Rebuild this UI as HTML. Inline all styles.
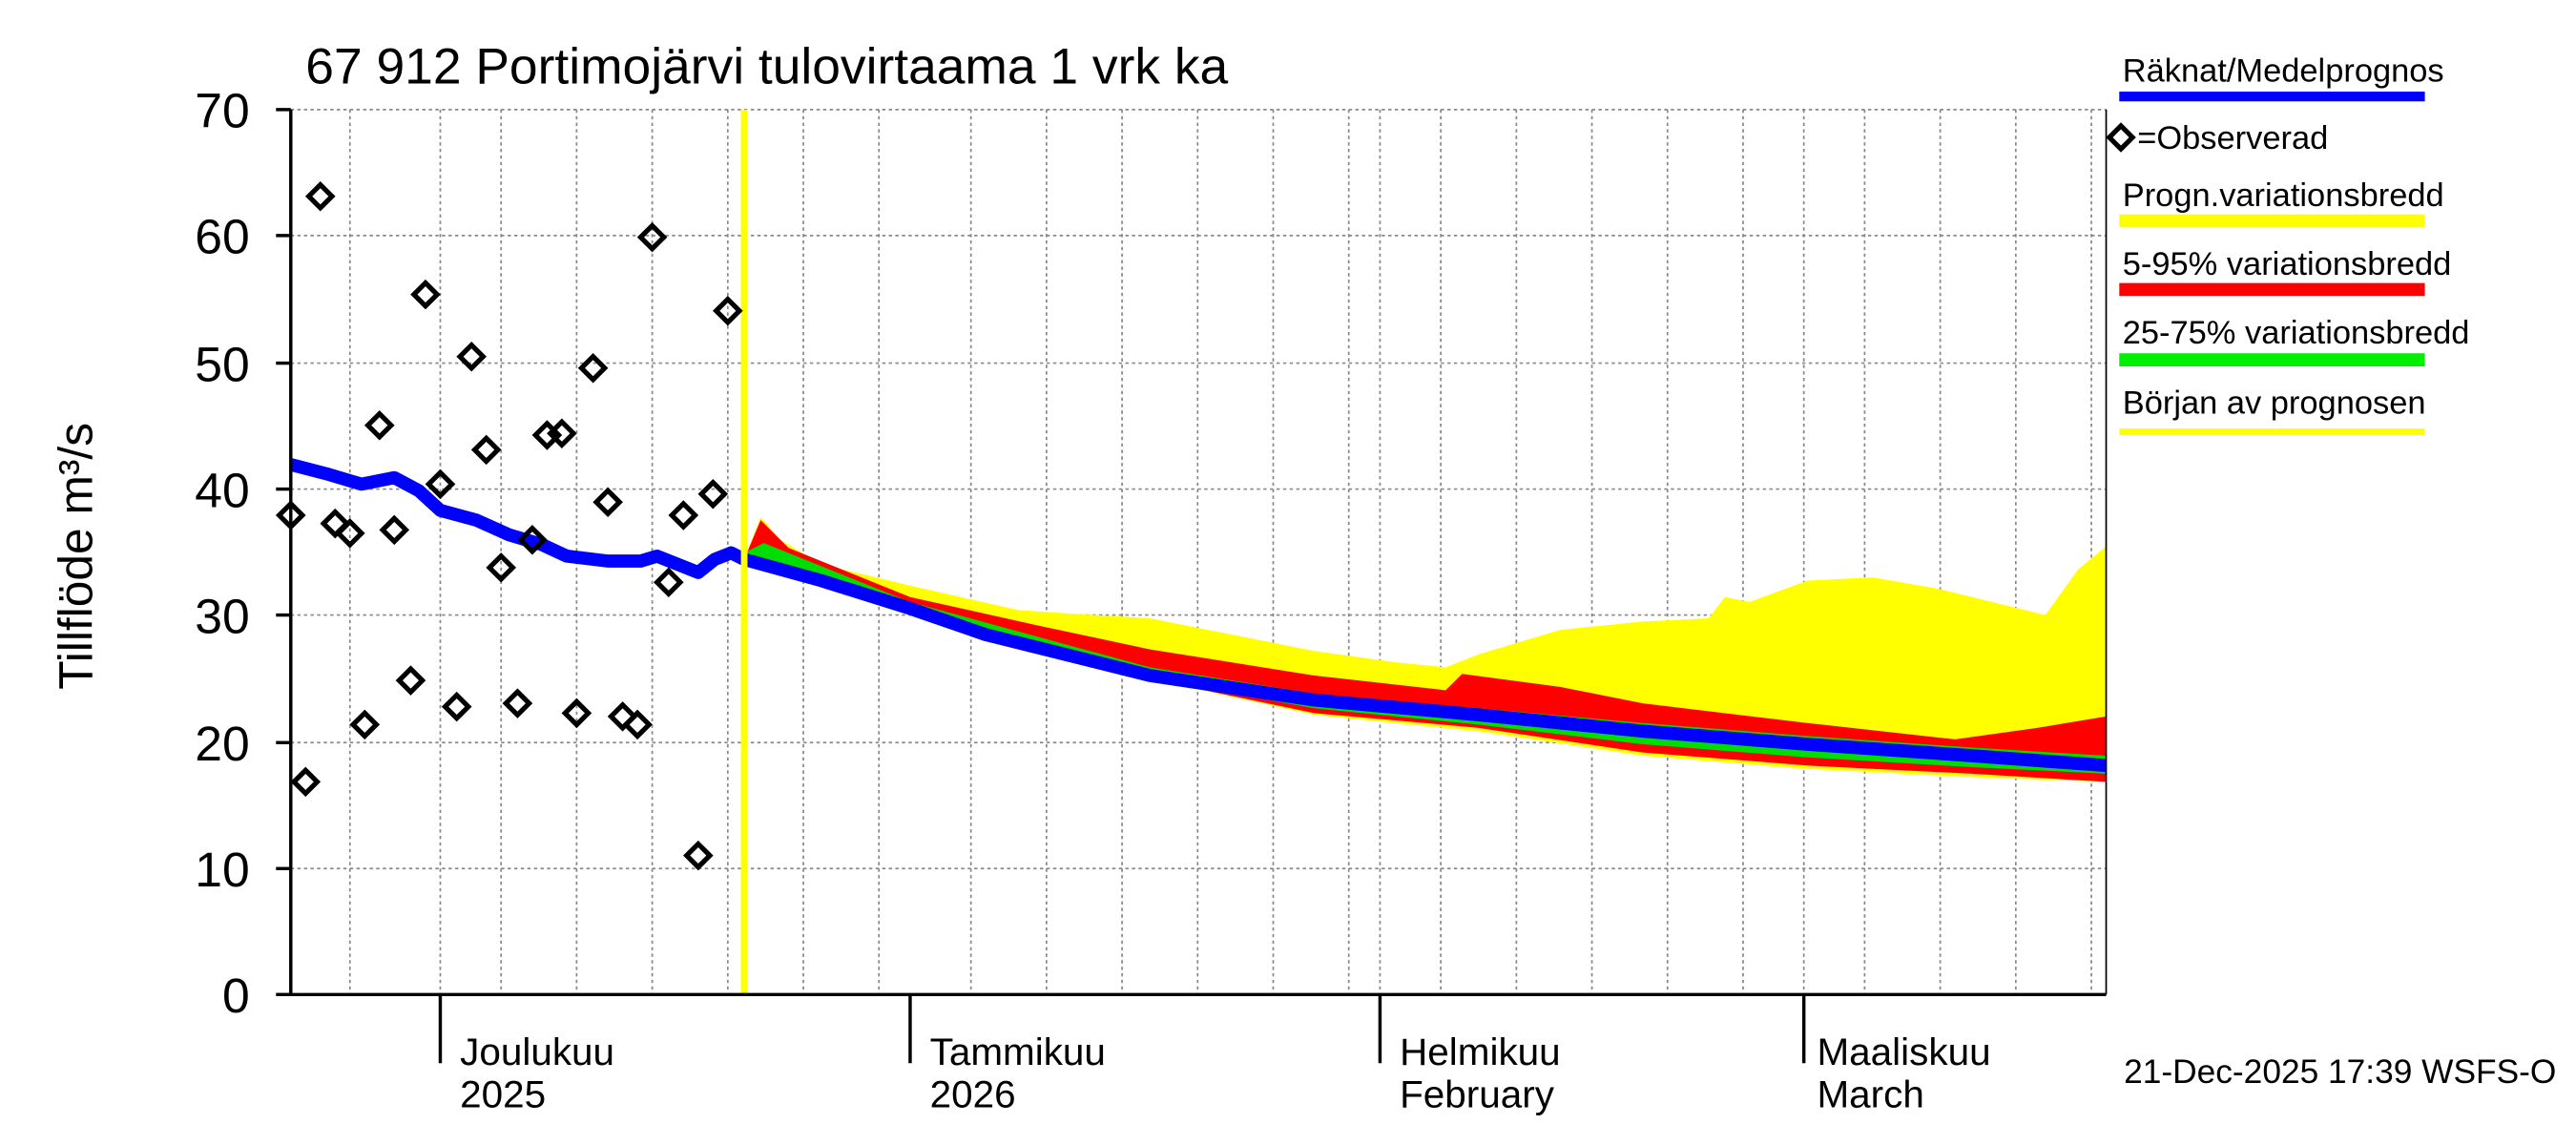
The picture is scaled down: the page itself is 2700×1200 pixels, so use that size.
<!DOCTYPE html>
<html><head><meta charset="utf-8"><style>
html,body{margin:0;padding:0;background:#fff;}
svg{display:block;font-family:"Liberation Sans",sans-serif;}
</style></head><body>
<svg width="2700" height="1200" viewBox="0 0 1568 700" preserveAspectRatio="none" xmlns="http://www.w3.org/2000/svg">
<rect width="1568" height="700" fill="#fff"/>
<g stroke="#888" stroke-dasharray="2,2" stroke-width="1">
<line x1="177" x2="1282" y1="531" y2="531"/><line x1="177" x2="1282" y1="454" y2="454"/>
<line x1="177" x2="1282" y1="376" y2="376"/><line x1="177" x2="1282" y1="299" y2="299"/>
<line x1="177" x2="1282" y1="222" y2="222"/><line x1="177" x2="1282" y1="144" y2="144"/>
<line x1="177" x2="1282" y1="67" y2="67"/>
<line x1="213" x2="213" y1="67" y2="608"/><line x1="268" x2="268" y1="67" y2="608"/>
<line x1="305" x2="305" y1="67" y2="608"/><line x1="351" x2="351" y1="67" y2="608"/>
<line x1="397" x2="397" y1="67" y2="608"/><line x1="443" x2="443" y1="67" y2="608"/>
<line x1="489" x2="489" y1="67" y2="608"/><line x1="535" x2="535" y1="67" y2="608"/>
<line x1="591" x2="591" y1="67" y2="608"/><line x1="637" x2="637" y1="67" y2="608"/>
<line x1="683" x2="683" y1="67" y2="608"/><line x1="729" x2="729" y1="67" y2="608"/>
<line x1="775" x2="775" y1="67" y2="608"/><line x1="821" x2="821" y1="67" y2="608"/>
<line x1="840" x2="840" y1="67" y2="608"/><line x1="877" x2="877" y1="67" y2="608"/>
<line x1="923" x2="923" y1="67" y2="608"/><line x1="969" x2="969" y1="67" y2="608"/>
<line x1="1015" x2="1015" y1="67" y2="608"/><line x1="1061" x2="1061" y1="67" y2="608"/>
<line x1="1098" x2="1098" y1="67" y2="608"/><line x1="1135" x2="1135" y1="67" y2="608"/>
<line x1="1181" x2="1181" y1="67" y2="608"/><line x1="1227" x2="1227" y1="67" y2="608"/>
<line x1="1273" x2="1273" y1="67" y2="608"/>
</g>
<polygon fill="#ffff00" points="453,342 463,316 475,330 500,345 554,358 620,373 650,375 700,378 750,388 800,398 850,405 880,408 900,400 950,385 1000,380 1040,378 1050,365 1065,368 1100,355 1140,353 1180,360 1245,376 1265,348 1282,334 1282,478 1200,475 1100,470 1000,462 900,447 800,437 700,415 554,375"/>
<polygon fill="#ff0000" points="453,342 463,318 480,335 554,365 630,382 700,397 800,413 880,422 890,412 950,420 1000,430 1100,442 1190,452 1240,445 1282,438 1282,478 1200,473 1100,468 1000,460 900,445 800,436 700,415 554,375"/>
<polygon fill="#00dd00" points="453,338 465,332 554,368 700,408 800,424 900,433 1000,442 1100,450 1200,457 1282,462 1282,473 1200,469 1100,463 1000,455 900,443 800,433 700,415 554,375 453,344"/>
<polyline fill="none" stroke="#0000ff" stroke-width="8" stroke-linejoin="round" points="177,284 200,290 220,296 240,292 255,300 268,312 290,318 310,327 330,333 345,340 370,343 390,343 400,340 415,346 425,350 435,342 445,338 453,342 500,355 554,372 600,388 700,413 800,428 900,437 1000,447 1100,455 1200,462 1282,468"/>
<line x1="453" x2="453" y1="67" y2="608" stroke="#ffff00" stroke-width="4"/>
<g fill="none" stroke="#000" stroke-width="3">
<rect x="172" y="310" width="10" height="10" transform="rotate(45 177 315)"/>
<rect x="181" y="473" width="10" height="10" transform="rotate(45 186 478)"/>
<rect x="190" y="115" width="10" height="10" transform="rotate(45 195 120)"/>
<rect x="199" y="315" width="10" height="10" transform="rotate(45 204 320)"/>
<rect x="208" y="321" width="10" height="10" transform="rotate(45 213 326)"/>
<rect x="217" y="438" width="10" height="10" transform="rotate(45 222 443)"/>
<rect x="226" y="255" width="10" height="10" transform="rotate(45 231 260)"/>
<rect x="235" y="319" width="10" height="10" transform="rotate(45 240 324)"/>
<rect x="245" y="411" width="10" height="10" transform="rotate(45 250 416)"/>
<rect x="254" y="175" width="10" height="10" transform="rotate(45 259 180)"/>
<rect x="263" y="291" width="10" height="10" transform="rotate(45 268 296)"/>
<rect x="273" y="427" width="10" height="10" transform="rotate(45 278 432)"/>
<rect x="282" y="213" width="10" height="10" transform="rotate(45 287 218)"/>
<rect x="291" y="270" width="10" height="10" transform="rotate(45 296 275)"/>
<rect x="300" y="342" width="10" height="10" transform="rotate(45 305 347)"/>
<rect x="310" y="425" width="10" height="10" transform="rotate(45 315 430)"/>
<rect x="319" y="325" width="10" height="10" transform="rotate(45 324 330)"/>
<rect x="328" y="261" width="10" height="10" transform="rotate(45 333 266)"/>
<rect x="337" y="260" width="10" height="10" transform="rotate(45 342 265)"/>
<rect x="346" y="431" width="10" height="10" transform="rotate(45 351 436)"/>
<rect x="356" y="220" width="10" height="10" transform="rotate(45 361 225)"/>
<rect x="365" y="302" width="10" height="10" transform="rotate(45 370 307)"/>
<rect x="374" y="433" width="10" height="10" transform="rotate(45 379 438)"/>
<rect x="383" y="438" width="10" height="10" transform="rotate(45 388 443)"/>
<rect x="392" y="140" width="10" height="10" transform="rotate(45 397 145)"/>
<rect x="402" y="351" width="10" height="10" transform="rotate(45 407 356)"/>
<rect x="411" y="310" width="10" height="10" transform="rotate(45 416 315)"/>
<rect x="420" y="518" width="10" height="10" transform="rotate(45 425 523)"/>
<rect x="429" y="297" width="10" height="10" transform="rotate(45 434 302)"/>
<rect x="438" y="185" width="10" height="10" transform="rotate(45 443 190)"/>
</g>
<g stroke="#000" stroke-width="2" fill="none">
<line x1="177" x2="177" y1="67" y2="609"/><line x1="176" x2="1282" y1="608" y2="608"/>
<line x1="1282" x2="1282" y1="67" y2="608" stroke-width="1"/>
<line x1="168" x2="177" y1="608" y2="608"/><line x1="168" x2="177" y1="531" y2="531"/>
<line x1="168" x2="177" y1="454" y2="454"/><line x1="168" x2="177" y1="376" y2="376"/>
<line x1="168" x2="177" y1="299" y2="299"/><line x1="168" x2="177" y1="222" y2="222"/>
<line x1="168" x2="177" y1="144" y2="144"/><line x1="168" x2="177" y1="67" y2="67"/>
<line x1="268" x2="268" y1="608" y2="650"/><line x1="554" x2="554" y1="608" y2="650"/>
<line x1="840" x2="840" y1="608" y2="650"/><line x1="1098" x2="1098" y1="608" y2="650"/>
</g>
<g font-size="30" text-anchor="end" fill="#000">
<text x="152" y="619">0</text><text x="152" y="542">10</text><text x="152" y="465">20</text>
<text x="152" y="387">30</text><text x="152" y="310">40</text><text x="152" y="233">50</text>
<text x="152" y="155">60</text><text x="152" y="78">70</text>
</g>
<text x="186" y="51" font-size="31">67 912 Portimojärvi tulovirtaama 1 vrk ka</text>
<text transform="translate(56 340) rotate(-90)" font-size="29" text-anchor="middle">Tillflöde m³/s</text>
<g font-size="23.5">
<text x="566" y="651">Tammikuu</text><text x="566" y="677">2026</text>
<text x="280" y="651">Joulukuu</text><text x="280" y="677">2025</text>
<text x="852" y="651">Helmikuu</text><text x="852" y="677">February</text>
<text x="1106" y="651">Maaliskuu</text><text x="1106" y="677">March</text>
</g>
<text x="1556" y="662" font-size="20.5" text-anchor="end">21-Dec-2025 17:39 WSFS-O</text>
<g font-size="20">
<text x="1292" y="50">Räknat/Medelprognos</text>
<line x1="1290" x2="1476" y1="59" y2="59" stroke="#0000ff" stroke-width="6"/>
<rect x="1286" y="79" width="10" height="10" transform="rotate(45 1291 84)" fill="none" stroke="#000" stroke-width="3"/>
<text x="1301" y="91">=Observerad</text>
<text x="1292" y="126">Progn.variationsbredd</text>
<line x1="1290" x2="1476" y1="135" y2="135" stroke="#ffff00" stroke-width="8"/>
<text x="1292" y="168">5-95% variationsbredd</text>
<line x1="1290" x2="1476" y1="177" y2="177" stroke="#ff0000" stroke-width="8"/>
<text x="1292" y="210">25-75% variationsbredd</text>
<line x1="1290" x2="1476" y1="220" y2="220" stroke="#00ee00" stroke-width="8"/>
<text x="1292" y="253">Början av prognosen</text>
<line x1="1290" x2="1476" y1="264" y2="264" stroke="#ffff00" stroke-width="4"/>
</g>
</svg>
</body></html>
